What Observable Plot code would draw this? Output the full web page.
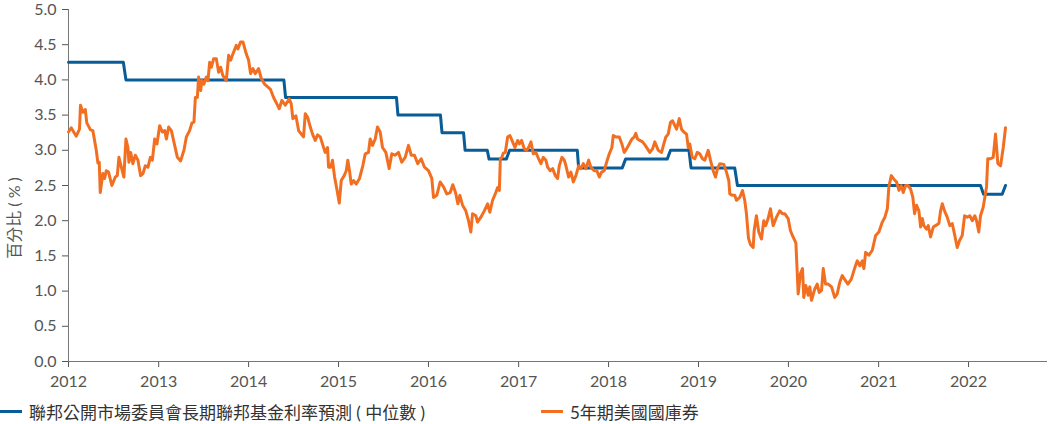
<!DOCTYPE html>
<html><head><meta charset="utf-8">
<script src="https://cdn.jsdelivr.net/npm/d3@7"></script>
<script src="https://cdn.jsdelivr.net/npm/@observablehq/plot@0.6"></script>
<style>
body{margin:0;background:#fff;font-family:Lato,"Noto Sans CJK TC",sans-serif;}
#wrap{position:relative;width:1048px;height:424px;overflow:hidden;}
#legend{position:absolute;left:0;top:398px;width:1048px;height:26px;font-size:17px;color:#333;}
.item{position:absolute;top:0;display:flex;align-items:center;height:26px;white-space:nowrap;}
.sw{width:22px;height:3px;margin-right:7px;}
#ylab{position:absolute;left:13px;top:218px;transform:translate(-50%,-50%) rotate(-90deg);font-size:16px;color:#555;white-space:nowrap;}
</style></head><body><div id="wrap"><div id="chart"></div><div id="ylab"></div><div id="legend"></div></div>
<script>
// ---- data ----
const seriesNames = ["聯邦公開市場委員會長期聯邦基金利率預測 ( 中位數 )", "5年期美國國庫券"];
const seriesColors = ["#0a5c97", "#f26f22"];
const yLabel = "百分比 ( % )";
const xTickYears = [2012, 2013, 2014, 2015, 2016, 2017, 2018, 2019, 2020, 2021, 2022];
const yTicks = [0, 0.5, 1, 1.5, 2, 2.5, 3, 3.5, 4, 4.5, 5];

// FOMC longer-run median (decimal year, %)
const fedYears = [2012.000, 2012.608, 2012.637, 2014.392, 2014.411, 2015.644, 2015.661, 2016.133, 2016.150,
  2016.389, 2016.406, 2016.652, 2016.672, 2016.863, 2016.900, 2017.652, 2017.667, 2018.152, 2018.189,
  2018.652, 2018.689, 2018.894, 2018.917, 2019.403, 2019.433, 2022.133, 2022.167, 2022.374, 2022.411];
const fedValues = [4.25, 4.25, 4.0, 4.0, 3.75, 3.75, 3.5, 3.5, 3.25,
  3.25, 3.0, 3.0, 2.875, 2.875, 3.0, 3.0, 2.75, 2.75, 2.875,
  2.875, 3.0, 3.0, 2.75, 2.75, 2.5, 2.5, 2.375, 2.375, 2.5];

// 5-year Treasury (decimal year, %)
const t5Years = [2012.000, 2012.030, 2012.086, 2012.122, 2012.133, 2012.159, 2012.186, 2012.203, 2012.244, 2012.270,
  2012.308, 2012.326, 2012.341, 2012.352, 2012.381, 2012.400, 2012.419, 2012.444, 2012.481, 2012.519,
  2012.541, 2012.559, 2012.586, 2012.614, 2012.637, 2012.659, 2012.670, 2012.689, 2012.714, 2012.741,
  2012.770, 2012.800, 2012.826, 2012.852, 2012.881, 2012.908, 2012.930, 2012.956, 2012.981, 2013.011,
  2013.041, 2013.067, 2013.086, 2013.111, 2013.141, 2013.178, 2013.208, 2013.244, 2013.281, 2013.308,
  2013.344, 2013.370, 2013.392, 2013.408, 2013.430, 2013.444, 2013.467, 2013.481, 2013.503, 2013.530,
  2013.548, 2013.567, 2013.586, 2013.611, 2013.641, 2013.667, 2013.689, 2013.714, 2013.752, 2013.778,
  2013.800, 2013.826, 2013.863, 2013.881, 2013.911, 2013.937, 2013.974, 2014.000, 2014.022, 2014.048,
  2014.074, 2014.111, 2014.141, 2014.178, 2014.241, 2014.278, 2014.314, 2014.341, 2014.370, 2014.408,
  2014.452, 2014.474, 2014.492, 2014.526, 2014.556, 2014.586, 2014.611, 2014.630, 2014.656, 2014.686,
  2014.711, 2014.741, 2014.767, 2014.797, 2014.826, 2014.852, 2014.878, 2014.889, 2014.914, 2014.933,
  2014.956, 2014.981, 2015.008, 2015.030, 2015.063, 2015.086, 2015.103, 2015.122, 2015.141, 2015.167,
  2015.197, 2015.233, 2015.270, 2015.297, 2015.333, 2015.352, 2015.378, 2015.408, 2015.433, 2015.463,
  2015.489, 2015.526, 2015.563, 2015.592, 2015.630, 2015.667, 2015.703, 2015.741, 2015.778, 2015.808,
  2015.844, 2015.881, 2015.919, 2015.956, 2016.000, 2016.037, 2016.056, 2016.092, 2016.130, 2016.167,
  2016.203, 2016.241, 2016.270, 2016.300, 2016.326, 2016.348, 2016.378, 2016.414, 2016.444, 2016.470,
  2016.489, 2016.526, 2016.544, 2016.581, 2016.619, 2016.656, 2016.681, 2016.711, 2016.741, 2016.767,
  2016.786, 2016.797, 2016.814, 2016.830, 2016.852, 2016.878, 2016.903, 2016.933, 2016.959, 2016.989,
  2017.008, 2017.033, 2017.063, 2017.089, 2017.111, 2017.137, 2017.163, 2017.192, 2017.222, 2017.248,
  2017.274, 2017.303, 2017.322, 2017.352, 2017.378, 2017.408, 2017.433, 2017.452, 2017.481, 2017.508,
  2017.526, 2017.556, 2017.581, 2017.608, 2017.637, 2017.667, 2017.692, 2017.719, 2017.748, 2017.778,
  2017.803, 2017.841, 2017.870, 2017.897, 2017.922, 2017.952, 2017.978, 2018.008, 2018.037, 2018.052,
  2018.081, 2018.119, 2018.148, 2018.174, 2018.200, 2018.230, 2018.259, 2018.286, 2018.303, 2018.322,
  2018.348, 2018.378, 2018.408, 2018.433, 2018.459, 2018.489, 2018.514, 2018.552, 2018.589, 2018.614,
  2018.637, 2018.663, 2018.689, 2018.711, 2018.737, 2018.756, 2018.786, 2018.811, 2018.837, 2018.867,
  2018.886, 2018.903, 2018.930, 2018.959, 2018.986, 2019.014, 2019.044, 2019.070, 2019.108, 2019.133,
  2019.163, 2019.189, 2019.211, 2019.237, 2019.281, 2019.311, 2019.337, 2019.348, 2019.378, 2019.403,
  2019.422, 2019.459, 2019.489, 2019.514, 2019.533, 2019.556, 2019.578, 2019.608, 2019.619, 2019.644,
  2019.670, 2019.700, 2019.726, 2019.748, 2019.774, 2019.800, 2019.830, 2019.867, 2019.903, 2019.933,
  2019.959, 2019.997, 2020.022, 2020.044, 2020.070, 2020.083, 2020.108, 2020.133, 2020.156, 2020.170,
  2020.192, 2020.219, 2020.237, 2020.256, 2020.292, 2020.319, 2020.341, 2020.367, 2020.386, 2020.411,
  2020.441, 2020.478, 2020.514, 2020.541, 2020.570, 2020.597, 2020.622, 2020.659, 2020.697, 2020.733,
  2020.763, 2020.792, 2020.819, 2020.837, 2020.856, 2020.892, 2020.930, 2020.967, 2021.003, 2021.041,
  2021.070, 2021.097, 2021.114, 2021.141, 2021.170, 2021.200, 2021.226, 2021.252, 2021.274, 2021.300,
  2021.326, 2021.356, 2021.381, 2021.400, 2021.422, 2021.448, 2021.467, 2021.486, 2021.503, 2021.533,
  2021.552, 2021.578, 2021.608, 2021.633, 2021.670, 2021.689, 2021.708, 2021.733, 2021.763, 2021.792,
  2021.819, 2021.844, 2021.874, 2021.900, 2021.930, 2021.956, 2021.986, 2022.014, 2022.041, 2022.070,
  2022.089, 2022.114, 2022.133, 2022.163, 2022.181, 2022.200, 2022.214, 2022.244, 2022.274, 2022.300,
  2022.326, 2022.356, 2022.386, 2022.411];
const t5Values = [3.26, 3.32, 3.20, 3.30, 3.64, 3.54, 3.58, 3.39, 3.29, 3.28,
  3.00, 2.82, 2.83, 2.40, 2.67, 2.60, 2.71, 2.69, 2.50, 2.62,
  2.64, 2.90, 2.76, 2.62, 3.16, 3.04, 2.83, 2.97, 2.81, 2.93,
  2.86, 2.64, 2.67, 2.78, 2.76, 2.90, 2.86, 3.16, 3.09, 3.35,
  3.26, 3.28, 3.16, 3.33, 3.28, 3.07, 2.90, 2.85, 3.00, 3.19,
  3.28, 3.39, 3.40, 3.75, 3.75, 4.04, 3.85, 3.99, 3.94, 4.04,
  3.99, 4.25, 4.18, 4.30, 4.30, 4.11, 4.18, 4.06, 3.99, 4.35,
  4.28, 4.37, 4.49, 4.44, 4.54, 4.54, 4.37, 4.28, 4.09, 4.16,
  4.09, 4.16, 4.02, 3.94, 3.87, 3.75, 3.66, 3.59, 3.71, 3.64,
  3.73, 3.66, 3.45, 3.49, 3.28, 3.23, 3.19, 3.52, 3.47, 3.33,
  3.23, 3.14, 3.22, 3.19, 3.07, 2.97, 3.04, 2.76, 2.76, 2.86,
  2.62, 2.45, 2.25, 2.57, 2.64, 2.71, 2.86, 2.71, 2.52, 2.57,
  2.52, 2.60, 2.78, 2.95, 2.97, 3.16, 3.07, 3.16, 3.33, 3.26,
  3.04, 2.97, 2.74, 2.95, 2.93, 2.97, 2.83, 2.90, 3.07, 2.93,
  2.93, 2.81, 2.88, 2.76, 2.71, 2.60, 2.33, 2.36, 2.55, 2.48,
  2.38, 2.40, 2.51, 2.40, 2.24, 2.36, 2.22, 2.14, 2.00, 1.84,
  2.10, 2.07, 1.98, 2.05, 2.14, 2.24, 2.12, 2.29, 2.38, 2.47,
  2.43, 2.88, 2.90, 2.96, 2.97, 3.19, 3.21, 3.12, 3.04, 3.14,
  3.09, 3.14, 3.02, 3.00, 3.04, 3.12, 2.95, 2.97, 2.88, 2.81,
  2.90, 2.86, 2.76, 2.71, 2.74, 2.64, 2.60, 2.78, 2.90, 2.86,
  2.78, 2.62, 2.69, 2.55, 2.64, 2.78, 2.74, 2.81, 2.74, 2.86,
  2.76, 2.71, 2.71, 2.62, 2.69, 2.71, 2.83, 2.95, 3.04, 3.21,
  3.19, 3.19, 3.09, 2.97, 3.02, 3.09, 3.16, 3.19, 3.24, 3.16,
  3.14, 3.12, 3.07, 3.02, 2.97, 3.02, 3.12, 3.00, 2.97, 3.09,
  3.19, 3.23, 3.40, 3.42, 3.35, 3.30, 3.45, 3.30, 3.26, 3.23,
  3.04, 3.09, 2.90, 2.88, 2.97, 2.95, 2.88, 2.86, 3.00, 2.86,
  2.71, 2.62, 2.74, 2.81, 2.80, 2.69, 2.57, 2.38, 2.36, 2.36,
  2.29, 2.33, 2.43, 2.29, 2.10, 1.75, 1.66, 1.62, 1.86, 2.07,
  1.84, 1.74, 2.00, 1.93, 2.03, 2.17, 1.93, 2.05, 2.14, 2.10,
  2.10, 2.03, 1.86, 1.79, 1.72, 1.68, 0.96, 1.25, 1.32, 0.91,
  1.08, 0.94, 1.06, 0.87, 1.03, 1.10, 0.98, 1.01, 1.32, 1.10,
  1.10, 1.06, 0.91, 0.96, 1.13, 1.22, 1.17, 1.10, 1.17, 1.32,
  1.43, 1.36, 1.43, 1.32, 1.55, 1.51, 1.58, 1.79, 1.84, 1.98,
  2.05, 2.17, 2.48, 2.64, 2.59, 2.55, 2.43, 2.50, 2.40, 2.50,
  2.50, 2.45, 2.33, 2.10, 2.22, 2.14, 1.91, 2.03, 1.93, 1.88,
  1.93, 1.77, 1.91, 1.93, 1.96, 2.14, 2.24, 2.14, 2.05, 1.93,
  1.96, 1.81, 1.62, 1.72, 1.79, 2.07, 2.05, 2.07, 2.00, 2.07,
  2.00, 1.84, 2.07, 2.19, 2.33, 2.48, 2.88, 2.88, 2.90, 3.23,
  2.81, 2.78, 3.04, 3.32];
const xDomainYears = [2012, 2022.878];

// ---- build ----
function toDate(y) {
  const yr = Math.floor(y);
  const a = Date.UTC(yr, 0, 1), b = Date.UTC(yr + 1, 0, 1);
  return new Date(a + (y - yr) * (b - a));
}
const fed = fedYears.map((y, i) => ({date: toDate(y), value: fedValues[i]}));
const t5 = t5Years.map((y, i) => ({date: toDate(y), value: t5Values[i]}));
const font = 'Lato, "Noto Sans CJK TC", sans-serif';

const chart = Plot.plot({
  width: 1048, height: 395,
  marginLeft: 68, marginRight: 1, marginTop: 9, marginBottom: 34,
  style: {fontFamily: font, fontSize: "16px", color: "#555", background: "transparent"},
  x: {type: "utc", domain: xDomainYears.map(toDate), ticks: xTickYears.map(toDate),
      tickFormat: d => String(d.getUTCFullYear()), tickSize: 6, tickPadding: 8, label: null},
  y: {domain: [0, 5], ticks: yTicks, tickFormat: d3.format(".1f"), tickSize: 6, tickPadding: 6, label: null},
  marks: [
    Plot.ruleX([toDate(xDomainYears[0])], {stroke: "#777"}),
    Plot.ruleY([0], {stroke: "#777"}),
    Plot.line(fed, {x: "date", y: "value", stroke: seriesColors[0], strokeWidth: 3, strokeLinejoin: "round"}),
    Plot.line(t5, {x: "date", y: "value", stroke: seriesColors[1], strokeWidth: 3, strokeLinejoin: "round"})
  ]
});
document.getElementById("chart").appendChild(chart);
document.getElementById("ylab").textContent = yLabel;

const legend = document.getElementById("legend");
const lefts = [0, 541];
seriesNames.forEach((name, i) => {
  const it = document.createElement("div");
  it.className = "item";
  it.style.left = lefts[i] + "px";
  const sw = document.createElement("span");
  sw.className = "sw";
  sw.style.background = seriesColors[i];
  const tx = document.createElement("span");
  tx.textContent = name;
  it.appendChild(sw); it.appendChild(tx);
  legend.appendChild(it);
});
</script></body></html>
